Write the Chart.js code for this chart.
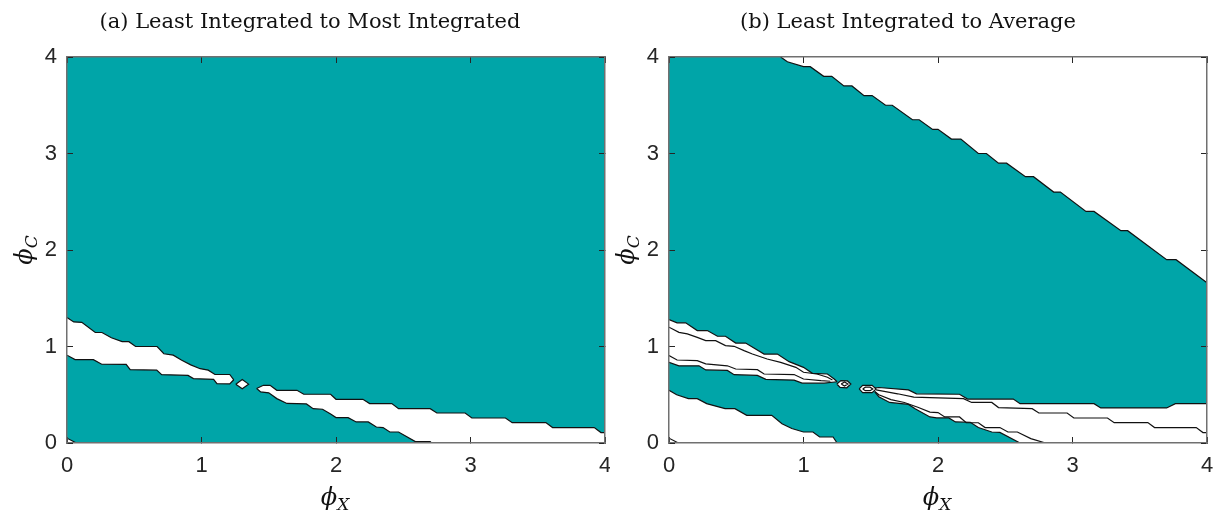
<!DOCTYPE html>
<html>
<head>
<meta charset="utf-8">
<script src="https://cdn.jsdelivr.net/npm/chart.js@4.4.1/dist/chart.umd.min.js"></script>
<style>
  body { margin: 0; background: #fff; }
  #wrap { position: relative; width: 1215px; height: 512px; overflow: hidden; }
  canvas { position: absolute; top: 0; }
  .ttl { position: absolute; top: 9px; width: 600px; text-align: center; font: 21px "DejaVu Serif", serif; line-height: 24px; color: #111; white-space: nowrap; }
  .lbl { position: absolute; width: 100px; height: 28px; text-align: center; font: italic 24px "DejaVu Serif", serif; line-height: 28px; color: #111; white-space: nowrap; }
  .lbl sub { font-size: 17px; vertical-align: -5px; }
  .rot { transform: rotate(-90deg); }
</style>
</head>
<body>
<div id="wrap">
  <canvas id="chartA" width="610" height="512" style="left:0"></canvas>
  <canvas id="chartB" width="605" height="512" style="left:610px"></canvas>
  <div class="ttl" style="left:10px">(a) Least Integrated to Most Integrated</div>
  <div class="ttl" style="left:608px">(b) Least Integrated to Average</div>
  <div class="lbl" style="left:285px;top:483px">ϕ<sub>X</sub></div>
  <div class="lbl" style="left:887px;top:483px">ϕ<sub>X</sub></div>
  <div class="lbl rot" style="left:-26px;top:236px">ϕ<sub>C</sub></div>
  <div class="lbl rot" style="left:576px;top:236px">ϕ<sub>C</sub></div>
</div>
<script>
// axes
const xTicks = [0, 1, 2, 3, 4];
const yTicks = [0, 1, 2, 3, 4];
const plotRect = [[0, 0], [4, 0], [4, 4], [0, 4]];

const TEAL = '#00a5a8';

// (a) contour lines
const aUpperLeft = [[0,1.30],[0.05,1.255],[0.11,1.25],[0.21,1.145],[0.26,1.145],[0.33,1.09],[0.41,1.05],[0.46,1.05],[0.51,1.0],[0.67,1.0],[0.72,0.925],[0.79,0.91],[0.85,0.86],[0.92,0.81],[0.99,0.77],[1.05,0.755],[1.10,0.71],[1.21,0.71],[1.24,0.655]];
const aLowerLeft = [[0,0.91],[0.06,0.864],[0.196,0.864],[0.258,0.816],[0.44,0.815],[0.47,0.76],[0.667,0.755],[0.704,0.709],[0.90,0.70],[0.94,0.667],[1.09,0.66],[1.115,0.615],[1.21,0.612],[1.24,0.655]];
const aDiamond = [[1.255,0.61],[1.303,0.657],[1.35,0.61],[1.303,0.563]];
const aUpperRight = [[1.41,0.565],[1.46,0.598],[1.51,0.598],[1.56,0.546],[1.71,0.546],[1.76,0.505],[1.96,0.505],[2.0,0.453],[2.20,0.453],[2.25,0.408],[2.415,0.408],[2.465,0.356],[2.70,0.356],[2.75,0.311],[2.96,0.311],[3.01,0.259],[3.26,0.259],[3.31,0.211],[3.56,0.211],[3.61,0.16],[3.92,0.16],[3.97,0.108],[4,0.108]];
const aLowerRight = [[1.41,0.565],[1.44,0.53],[1.50,0.52],[1.56,0.46],[1.635,0.41],[1.78,0.405],[1.83,0.356],[1.90,0.35],[1.96,0.30],[2.0,0.263],[2.09,0.263],[2.15,0.218],[2.24,0.218],[2.30,0.166],[2.35,0.16],[2.40,0.114],[2.465,0.114],[2.59,0.015],[2.70,0.015],[2.71,0]];
const aCorner = [[0,0.05],[0.07,0]];

// (b) contour lines
const bTopRight = [[0.83,4.0],[0.88,3.95],[1.0,3.90],[1.05,3.90],[1.15,3.80],[1.21,3.80],[1.30,3.70],[1.36,3.70],[1.45,3.60],[1.51,3.60],[1.61,3.50],[1.66,3.50],[1.81,3.35],[1.86,3.35],[1.96,3.25],[2.0,3.25],[2.10,3.15],[2.17,3.15],[2.30,3.0],[2.36,3.0],[2.45,2.90],[2.51,2.90],[2.65,2.76],[2.71,2.76],[2.86,2.60],[2.91,2.60],[3.10,2.40],[3.16,2.40],[3.36,2.20],[3.41,2.20],[3.70,1.90],[3.77,1.90],[4.0,1.66]];
const bUpperLeft = [[0,1.28],[0.06,1.245],[0.124,1.245],[0.21,1.165],[0.285,1.165],[0.36,1.106],[0.42,1.106],[0.496,1.036],[0.57,1.036],[0.707,0.922],[0.806,0.922],[0.893,0.843],[1.0,0.784],[1.066,0.722],[1.178,0.715],[1.228,0.663],[1.25,0.635]];
const bInnerLeft1 = [[0,1.20],[0.074,1.147],[0.136,1.13],[0.21,1.095],[0.273,1.061],[0.347,1.061],[0.42,1.009],[0.484,1.002],[0.558,0.957],[0.62,0.922],[0.73,0.87],[0.83,0.836],[0.943,0.784],[1.0,0.733],[1.10,0.715],[1.178,0.681],[1.215,0.653]];
const bInnerLeft2 = [[0,0.906],[0.06,0.86],[0.21,0.854],[0.273,0.82],[0.434,0.80],[0.496,0.767],[0.657,0.76],[0.707,0.715],[0.93,0.709],[1.0,0.663],[1.13,0.646],[1.20,0.64]];
const bLowerLeft = [[0,0.835],[0.074,0.80],[0.223,0.80],[0.273,0.757],[0.434,0.752],[0.484,0.708],[0.657,0.70],[0.72,0.66],[0.93,0.652],[0.99,0.62],[1.153,0.62],[1.25,0.635]];
const bLoop1 = [[1.248,0.611],[1.278,0.646],[1.327,0.643],[1.352,0.611],[1.322,0.572],[1.272,0.577]];
const bLoop1In = [[1.28,0.611],[1.305,0.632],[1.33,0.611],[1.305,0.59]];
const bLoop2 = [[1.414,0.56],[1.44,0.598],[1.51,0.598],[1.54,0.56],[1.51,0.522],[1.44,0.522]];
const bLoop2In = [[1.44,0.56],[1.46,0.578],[1.495,0.578],[1.515,0.56],[1.495,0.542],[1.46,0.542]];
const bUpperRight = [[1.53,0.57],[1.56,0.575],[1.78,0.55],[1.84,0.51],[2.16,0.505],[2.22,0.455],[2.56,0.455],[2.61,0.408],[3.16,0.408],[3.21,0.363],[3.70,0.363],[3.765,0.408],[4,0.408]];
const bInnerRightA = [[1.54,0.55],[1.60,0.535],[1.70,0.51],[1.82,0.475],[1.94,0.47],[2.19,0.46],[2.25,0.42],[2.40,0.42],[2.45,0.367],[2.70,0.356],[2.75,0.311],[2.96,0.311],[3.01,0.259],[3.26,0.259],[3.31,0.211],[3.56,0.211],[3.61,0.16],[3.92,0.16],[3.97,0.108],[4,0.108]];
const bInnerRightB = [[1.53,0.535],[1.56,0.50],[1.65,0.45],[1.75,0.42],[1.85,0.37],[1.94,0.32],[2.0,0.315],[2.05,0.27],[2.16,0.27],[2.21,0.21],[2.30,0.21],[2.35,0.16],[2.46,0.16],[2.52,0.114],[2.59,0.114],[2.69,0.045],[2.80,0.0]];
const bLowerRight = [[1.53,0.53],[1.56,0.48],[1.64,0.42],[1.78,0.40],[1.83,0.355],[1.94,0.27],[1.99,0.26],[2.08,0.26],[2.13,0.218],[2.24,0.215],[2.30,0.16],[2.40,0.114],[2.46,0.11],[2.61,0.0]];
const bBottomLeft = [[0,0.546],[0.057,0.50],[0.144,0.46],[0.21,0.46],[0.28,0.408],[0.417,0.356],[0.49,0.356],[0.578,0.287],[0.764,0.287],[0.84,0.20],[0.913,0.15],[1.0,0.114],[1.07,0.114],[1.12,0.062],[1.22,0.062],[1.25,0.0]];
const bCorner = [[0,0.05],[0.07,0]];

const pts = arr => arr.map(([x, y]) => ({x, y}));
const rev = arr => arr.slice().reverse();
const closed = arr => arr.concat([arr[0]]);

function area(arr, color, order) {
    return {data: pts(arr), fill: 'shape', backgroundColor: color, borderWidth: 0, pointRadius: 0, tension: 0, order: order};
}
function contour(arr) {
    return {data: pts(arr), fill: false, borderColor: '#111', borderWidth: 1.2, pointRadius: 0, tension: 0, order: 1};
}

function axis(pos, showLabels, size) {
    const horiz = pos === 'bottom' || pos === 'top';
    return {
        type: 'linear', axis: horiz ? 'x' : 'y', position: pos, min: 0, max: 4,
        afterBuildTicks: s => { s.ticks = (horiz ? xTicks : yTicks).map(v => ({value: v})); },
        ticks: {
            display: showLabels, padding: 16, maxRotation: 0, color: '#262626',
            font: {family: '"Liberation Sans", Arial, sans-serif', size: 22}
        },
        grid: {drawOnChartArea: false, drawTicks: true, tickLength: -6, color: '#262626', lineWidth: 1, z: 1},
        border: {display: true, color: '#707070', width: 1.5, z: 1},
        afterFit: s => {
            // fixed plot box, no extra room for overhanging labels
            if (horiz) s.height = size; else s.width = size;
            s.paddingLeft = s.paddingRight = s.paddingTop = s.paddingBottom = 0;
        }
    };
}

function makeChart(id, leftW, rightW, datasets) {
    return new Chart(document.getElementById(id), {
        type: 'line',
        data: {datasets: datasets},
        options: {
            responsive: false,
            animation: false,
            events: [],
            layout: {padding: 0},
            plugins: {legend: {display: false}, tooltip: {enabled: false}},
            scales: {
                x: axis('bottom', true, 69),
                x2: axis('top', false, 57),
                y: axis('left', true, leftW),
                y2: axis('right', false, rightW)
            }
        }
    });
}

// (a)
makeChart('chartA', 67, 5, [
    area(plotRect, TEAL, 3),
    area(aUpperLeft.concat(rev(aLowerLeft)), '#fff', 2),
    area(aDiamond, '#fff', 2),
    area(aUpperRight.concat([[4, 0]], rev(aLowerRight)), '#fff', 2),
    area(aCorner.concat([[0, 0]]), '#fff', 2),
    contour(aUpperLeft), contour(aLowerLeft), contour(closed(aDiamond)),
    contour(aUpperRight), contour(aLowerRight), contour(aCorner)
]);

// (b)
makeChart('chartB', 59, 8, [
    area(plotRect, TEAL, 3),
    area(bTopRight.concat([[4, 4]]), '#fff', 2),
    area(bUpperLeft.concat(rev(bLowerLeft)), '#fff', 2),
    area(bLoop1, '#fff', 2),
    area(bLoop2, '#fff', 2),
    area(bUpperRight.concat([[4, 0]], rev(bLowerRight)), '#fff', 2),
    area(bBottomLeft.concat([[0, 0]]), '#fff', 2),
    contour(bTopRight), contour(bUpperLeft), contour(bInnerLeft1), contour(bInnerLeft2),
    contour(bLowerLeft), contour(closed(bLoop1)), contour(closed(bLoop1In)),
    contour(closed(bLoop2)), contour(closed(bLoop2In)), contour(bUpperRight),
    contour(bInnerRightA), contour(bInnerRightB), contour(bLowerRight),
    contour(bBottomLeft), contour(bCorner)
]);
</script>
</body>
</html>
